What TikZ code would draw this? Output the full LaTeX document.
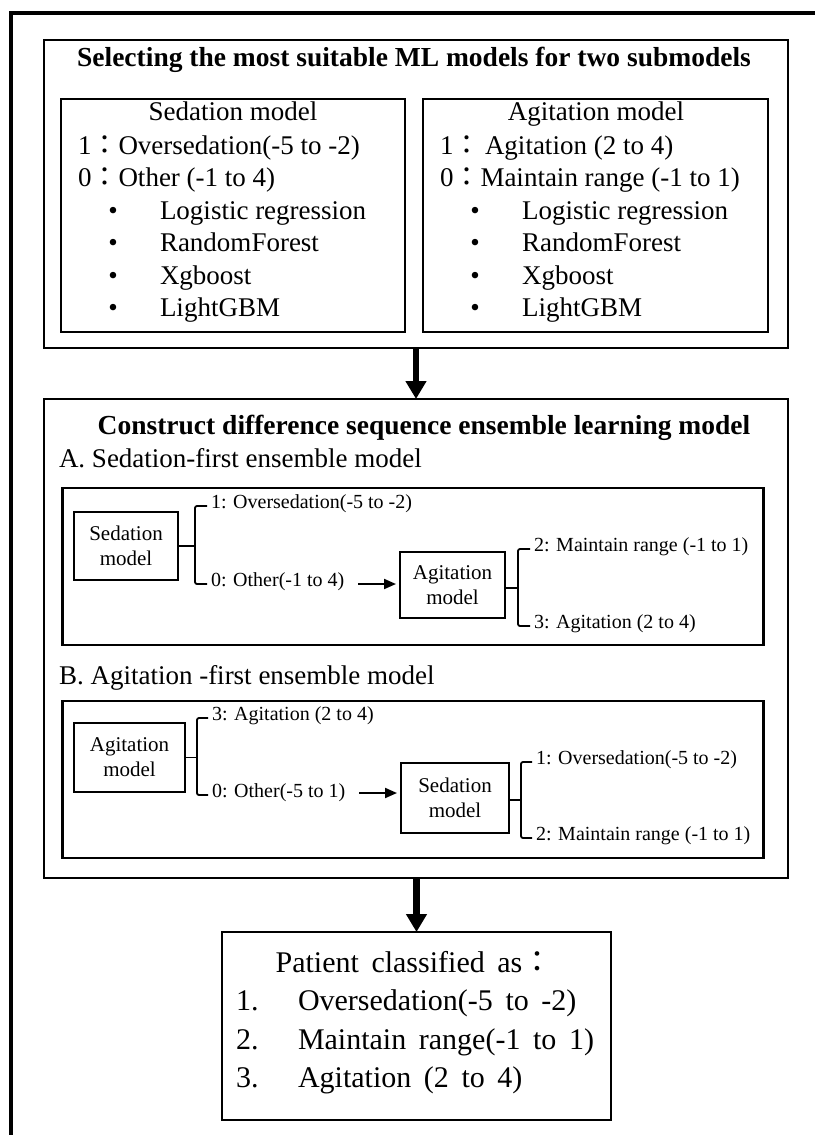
\documentclass[tikz,border=0pt]{standalone}
\usepackage{fontspec}
\setmainfont{Liberation Serif}
\newfontfamily\cjk{Noto Sans CJK TC}
\usetikzlibrary{arrows.meta,calc}
\newcommand{\fc}{{\cjk ：}}
\newcommand{\resfont}{\fontsize{30}{36}\selectfont\spaceskip=0.42em\relax}
\begin{document}
\begin{tikzpicture}[x=1pt,y=-1pt,
  every node/.style={inner sep=0pt, outer sep=0pt},
  txt/.style={anchor=west, text height=0.7em, text depth=0.2em},
  ctxt/.style={anchor=center, text height=0.7em, text depth=0.2em},
  bigbox/.style={draw, line width=2.7pt},
  inbox/.style={draw, line width=2.3pt},
  mbox/.style={draw, line width=2pt, align=center, font=\fontsize{21}{25}\selectfont},
  big/.style={font=\fontsize{27}{32}\selectfont},
  small/.style={font=\fontsize{20}{24}\selectfont},
  res/.style={font=\resfont},
  bold/.style={font=\bfseries\fontsize{27.5}{32}\selectfont},
  bigarrow/.style={line width=6.5pt, -{Triangle[width=20pt,length=18pt]}},
  smallarrow/.style={line width=2pt, -{Triangle[width=10pt,length=12pt]}},
  brace/.style={line width=1.8pt, rounded corners=2pt},
]
\useasboundingbox (0,0) rectangle (814,1135);
% outer frame (only top and left edges visible)
\coordinate (fb) at (11,1150);
\coordinate (fc) at (11,13);
\coordinate (fr) at (830,13);
\draw[line width=4pt] (fb) -- (fc) -- (fr);

% ---------- top section ----------
\node[bigbox, minimum width=744pt, minimum height=308pt] (sel) at (416,194) {};
\node[ctxt, bold] (selt) at (414,64) {Selecting the most suitable ML models for two submodels};

\node[inbox, minimum width=344pt, minimum height=233pt] (sedbox) at (233,215.5) {};
\node[inbox, minimum width=345pt, minimum height=233pt] (agibox) at (595.5,215.5) {};

\begin{scope}[big]
\node[ctxt] (sedt) at (233,118) {Sedation model};
\node[txt] (sed1) at (78,152) {1\fc Oversedation(-5 to -2)};
\node[txt] (sed0) at (78,184) {0\fc Other (-1 to 4)};
\node[ctxt] (sb1) at (113,217) {•};
\node[ctxt] (sb2) at (113,249) {•};
\node[ctxt] (sb3) at (113,282) {•};
\node[ctxt] (sb4) at (113,314) {•};
\node[txt] (sm1) at (160,217) {Logistic regression};
\node[txt] (sm2) at (160,249) {RandomForest};
\node[txt] (sm3) at (160,282) {Xgboost};
\node[txt] (sm4) at (160,314) {LightGBM};

\node[ctxt] (agit) at (596,118) {Agitation model};
\node[txt] (agi1) at (440,152) {1\fc\,Agitation (2 to 4)};
\node[txt] (agi0) at (440,184) {0\fc Maintain range (-1 to 1)};
\node[ctxt] (ab1) at (475,217) {•};
\node[ctxt] (ab2) at (475,249) {•};
\node[ctxt] (ab3) at (475,282) {•};
\node[ctxt] (ab4) at (475,314) {•};
\node[txt] (am1) at (522,217) {Logistic regression};
\node[txt] (am2) at (522,249) {RandomForest};
\node[txt] (am3) at (522,282) {Xgboost};
\node[txt] (am4) at (522,314) {LightGBM};
\end{scope}

% ---------- ensemble section ----------
\node[bigbox, minimum width=744pt, minimum height=479pt] (ens) at (416,638.5) {};
\draw[bigarrow] (sel.south) -- (ens.north);

\node[ctxt, bold] (enst) at (424,432) {Construct difference sequence ensemble learning model};
\node[txt, big] (alab) at (59,465) {A. Sedation-first ensemble model};
\node[txt, big] (blab) at (59,682) {B. Agitation -first ensemble model};

\node[inbox, minimum width=701pt, minimum height=157pt] (boxA) at (413,566.5) {};
\node[inbox, minimum width=701pt, minimum height=157pt] (boxB) at (413,779.5) {};

% A
\node[mbox, minimum width=104pt, minimum height=68pt] (sedA) at (126,546) {Sedation\\model};
\node[txt, small] (a1) at (211,506) {1: Oversedation(-5 to -2)};
\node[txt, small] (a0) at (211,584) {0: Other(-1 to 4)};
\coordinate (bA1) at (195,546);
\draw[brace] ($(a1.west)+(-4,0)$) -| (bA1) |- ($(a0.west)+(-4,0)$);
\draw[brace] (sedA.east) -- (bA1);
\node[mbox, minimum width=105pt, minimum height=66pt] (agA) at (452.5,585) {Agitation\\model};
\draw[smallarrow] ($(a0.east)+(14,0)$) -- ($(a0.east -| agA.west)+(-4,0)$);
\node[txt, small] (a2) at (534,549) {2: Maintain range (-1 to 1)};
\node[txt, small] (a3) at (534,626) {3: Agitation (2 to 4)};
\coordinate (bA2) at (518,588);
\draw[brace] ($(a2.west)+(-4,0)$) -| (bA2) |- ($(a3.west)+(-4,0)$);
\draw[brace] (agA.east |- bA2) -- (bA2);

% B
\node[mbox, minimum width=111pt, minimum height=69pt] (agB) at (129.5,757.5) {Agitation\\model};
\node[txt, small] (b3) at (212,718) {3: Agitation (2 to 4)};
\node[txt, small] (b0) at (212,795) {0: Other(-5 to 1)};
\coordinate (bB1) at (197,757.5);
\draw[brace] ($(b3.west)+(-4,0)$) -| (bB1) |- ($(b0.west)+(-4,0)$);
\draw[brace] (agB.east) -- (bB1);
\node[mbox, minimum width=108pt, minimum height=70pt] (sedB) at (455,798) {Sedation\\model};
\draw[smallarrow] ($(b0.east)+(14,-2)$) -- ($(b0.east -| sedB.west)+(-4,-2)$);
\node[txt, small] (b1) at (536,762) {1: Oversedation(-5 to -2)};
\node[txt, small] (b2) at (536,838) {2: Maintain range (-1 to 1)};
\coordinate (bB2) at (521,800);
\draw[brace] ($(b1.west)+(-4,0)$) -| (bB2) |- ($(b2.west)+(-4,0)$);
\draw[brace] (sedB.east |- bB2) -- (bB2);

% ---------- result ----------
\node[inbox, minimum width=389pt, minimum height=188pt] (resbox) at (416.5,1026) {};
\draw[bigarrow] (ens.south -| resbox.north) -- (resbox.north);
\begin{scope}[res]
\node[ctxt] (rest) at (414,970) {Patient classified as\fc};
\node[txt] (rn1) at (236,1008) {1.};
\node[txt] (rn2) at (236,1047) {2.};
\node[txt] (rn3) at (236,1085) {3.};
\node[txt] (r1) at (298,1008) {Oversedation(-5 to -2)};
\node[txt] (r2) at (298,1047) {Maintain range(-1 to 1)};
\node[txt] (r3) at (298,1085) {Agitation (2 to 4)};
\end{scope}
\end{tikzpicture}
\end{document}
